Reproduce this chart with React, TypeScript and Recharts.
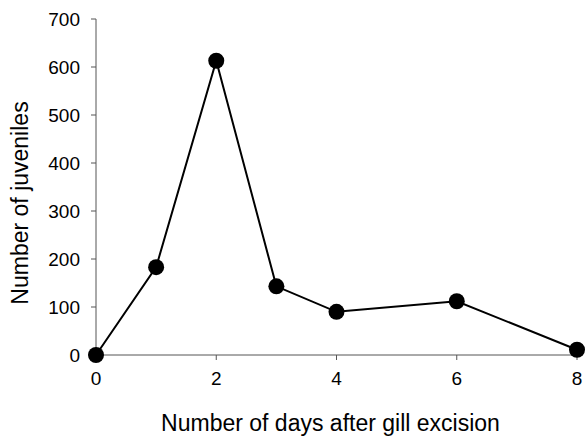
import React from "react";
import { LineChart, Line, XAxis, YAxis } from "recharts";

const days = [0, 1, 2, 3, 4, 6, 8];
const juveniles = [0, 183, 613, 143, 90, 112, 11];
const xTicks = [0, 2, 4, 6, 8];
const yTicks = [0, 100, 200, 300, 400, 500, 600, 700];

const data = days.map((d, i) => ({ day: d, count: juveniles[i] }));

const FONT = "'Liberation Sans', Arial, sans-serif";

const YTitle = ({ viewBox }: any) => {
  const cy = viewBox.y + viewBox.height / 2 + 16;
  const cx = 28;
  return (
    <text
      x={cx}
      y={cy}
      transform={`rotate(-90 ${cx} ${cy})`}
      textAnchor="middle"
      fontSize={23}
      fontFamily={FONT}
      fill="#000"
    >
      Number of juveniles
    </text>
  );
};

const App = () => {
  return (
    <div style={{ position: "absolute", left: 0, top: 0 }}>
      <LineChart
        width={587}
        height={439}
        data={data}
        margin={{ top: 19, right: 10, bottom: 0, left: 0 }}
      >
        <XAxis
          dataKey="day"
          type="number"
          domain={[0, 8]}
          ticks={xTicks}
          height={84}
          stroke="#555"
          tickSize={5}
          tickMargin={12}
          tick={{ fill: "#000", fontSize: 19, fontFamily: FONT }}
          label={{
            value: "Number of days after gill excision",
            position: "insideBottom",
            offset: 8,
            dx: -6,
            fill: "#000",
            fontSize: 23,
            fontFamily: FONT,
          }}
        />
        <YAxis
          type="number"
          domain={[0, 700]}
          ticks={yTicks}
          width={96}
          stroke="#555"
          tickSize={5}
          tickMargin={11}
          tick={{ fill: "#000", fontSize: 19, fontFamily: FONT }}
          label={<YTitle />}
        />
        <Line
          dataKey="count"
          stroke="#000"
          strokeWidth={2}
          dot={{ r: 8, fill: "#000", stroke: "#000", strokeWidth: 0 }}
          isAnimationActive={false}
        />
      </LineChart>
    </div>
  );
};

export default App;
